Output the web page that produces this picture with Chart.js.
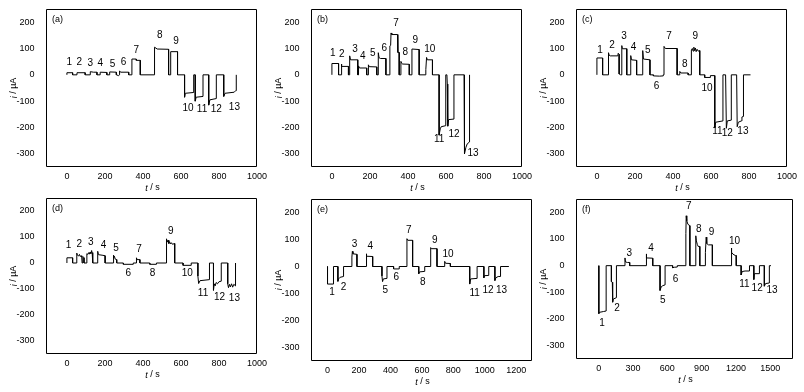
<!DOCTYPE html>
<html><head><meta charset="utf-8">
<script src="https://cdn.jsdelivr.net/npm/chart.js@4/dist/chart.umd.min.js"></script>
<style>
html,body{margin:0;padding:0;background:#fff;}
#wrap{position:relative;width:804px;height:392px;overflow:hidden;background:#fff;}
canvas{position:absolute;}
</style></head><body><div id="wrap"></div>
<script>
// ---------- DATA ----------
const numberLabels=['1','2','3','4','5','6','7','8','9','10','11','12','13'];
const yTicks=[-300,-200,-100,0,100,200];
const xTicks1000=[0,200,400,600,800,1000];
const xTicks1200=[0,200,400,600,800,1000,1200];
const xTicks1500=[0,300,600,900,1200,1500];

// [t (s), i (µA)]
const traceA=[[0,0],[0,8],[30,8],[30,0],[53,0],[53,8],[96,8],[96,0],[123,0],[123,12],[140,10],[158,10],[158,0],[175,0],[175,10],[210,9],[210,0],[225,0],[225,11],[260,10],[260,0],[272,-3],[277,0],[277,15],[282,10],[325,10],[325,0],[342,0],[342,60],[365,60],[365,55],[386,55],[386,0],[461,0],[461,105],[475,98],[535,97],[535,0],[546,0],[546,88],[582,88],[582,0],[619,0],[619,-85],[623,-70],[667,-67],[667,0],[675,0],[675,-100],[680,-85],[716,-82],[716,0],[746,0],[746,-115],[752,-95],[786,-90],[786,0],[825,0],[825,-82],[832,-70],[880,-66],[888,-60],[891,-60],[891,0]];
const traceB=[[0,0],[0,43],[35,43],[35,0],[49,0],[49,41],[53,32],[87,32],[87,0],[92,0],[92,60],[95,72],[98,57],[136,57],[136,0],[140,0],[140,34],[145,26],[183,26],[183,0],[192,0],[192,38],[196,31],[236,30],[236,0],[244,0],[244,84],[248,65],[256,62],[284,62],[284,0],[305,0],[305,110],[309,112],[311,159],[315,153],[345,153],[347,85],[354,85],[354,0],[363,0],[363,51],[368,43],[372,41],[407,40],[407,0],[421,0],[421,98],[459,96],[459,0],[494,0],[494,20],[498,66],[502,57],[529,57],[529,0],[564,0],[564,-229],[570,-205],[575,-197],[599,-193],[599,0],[605,0],[607,-35],[609,-40],[610,-195],[614,-170],[642,-168],[642,0],[695,0],[695,-250],[700,-300],[705,-275],[712,-262],[724,-255],[724,0]];
const traceC=[[0,0],[0,64],[30,64],[30,0],[61,0],[61,84],[64,75],[70,72],[110,72],[112,82],[117,78],[117,3],[125,0],[131,0],[131,111],[134,99],[157,99],[157,0],[178,0],[178,73],[182,57],[209,55],[209,0],[241,0],[241,92],[245,60],[279,57],[279,0],[297,0],[297,-4],[330,-5],[349,-4],[349,0],[353,0],[353,108],[360,100],[422,100],[422,0],[436,0],[436,13],[442,7],[480,7],[480,0],[497,0],[497,95],[502,100],[506,90],[510,105],[514,92],[518,102],[522,88],[527,97],[533,90],[541,92],[541,0],[567,0],[567,-10],[597,-10],[597,-3],[620,-3],[620,-201],[625,-180],[663,-175],[663,0],[677,0],[681,-203],[686,-175],[707,-172],[707,0],[735,0],[738,-197],[744,-180],[760,-175],[763,-160],[771,-158],[771,0],[808,0]];
const traceD=[[0,0],[0,20],[30,20],[30,0],[52,0],[52,38],[55,30],[62,27],[66,33],[70,25],[75,28],[78,22],[80,0],[84,0],[84,25],[90,20],[90,0],[105,0],[105,36],[110,33],[115,40],[118,34],[122,42],[126,36],[130,48],[133,38],[136,40],[136,0],[162,0],[162,45],[166,32],[185,30],[201,28],[201,0],[244,0],[244,30],[247,20],[250,26],[254,15],[262,13],[262,0],[297,0],[297,-5],[349,-5],[349,0],[366,0],[366,20],[369,13],[384,13],[384,0],[436,0],[436,-5],[471,-5],[471,0],[524,0],[524,93],[527,80],[532,88],[536,75],[540,82],[545,73],[550,78],[555,72],[567,75],[567,0],[611,0],[611,-9],[654,-9],[654,0],[689,0],[689,-50],[693,-79],[700,-68],[750,-64],[750,0],[771,0],[771,-105],[775,-80],[780,-88],[785,-75],[792,-80],[800,-72],[812,-70],[812,0],[846,0],[846,-80],[850,-95],[855,-82],[860,-92],[866,-80],[872,-93],[878,-82],[887,-88],[887,0]];
const traceE=[[0,0],[0,-65],[38,-65],[38,0],[66,0],[66,-55],[70,-46],[80,-40],[102,-37],[102,0],[155,0],[155,35],[158,56],[162,47],[187,45],[187,0],[246,0],[246,47],[250,38],[287,37],[287,0],[346,0],[346,-35],[350,-56],[355,-46],[378,-44],[378,0],[420,0],[420,-9],[456,-9],[456,0],[505,0],[505,103],[510,97],[541,97],[541,0],[580,0],[580,-27],[585,-20],[618,-18],[618,0],[656,0],[656,70],[660,66],[696,66],[696,0],[745,0],[745,19],[750,12],[781,11],[781,0],[904,0],[904,-65],[910,-46],[951,-44],[951,0],[994,0],[994,-42],[998,-34],[1025,-33],[1025,0],[1064,0],[1064,-52],[1070,-42],[1085,-37],[1100,-37],[1100,0],[1153,0]];
const traceF=[[0,0],[0,-180],[5,-175],[40,-172],[64,-170],[64,0],[110,0],[110,-60],[118,-62],[121,-137],[127,-125],[154,-120],[154,0],[229,0],[229,29],[233,14],[250,12],[270,12],[270,0],[414,0],[414,44],[420,29],[472,28],[472,0],[536,0],[536,-93],[545,-80],[560,-75],[580,-72],[580,0],[646,0],[646,-8],[660,-6],[687,-5],[687,0],[762,0],[762,120],[765,187],[770,168],[780,155],[797,150],[797,0],[849,0],[849,112],[854,93],[862,80],[870,72],[884,72],[884,0],[933,0],[933,50],[940,107],[945,83],[960,78],[994,78],[994,0],[1159,0],[1159,66],[1165,50],[1175,43],[1195,38],[1203,38],[1203,0],[1246,0],[1246,-35],[1255,-22],[1280,-20],[1319,-20],[1319,0],[1357,0],[1357,-52],[1362,-30],[1406,-30],[1406,0],[1449,0],[1449,-77],[1460,-67],[1493,-65],[1493,0],[1507,0]];

// number label anchors [t, i]
const labelsA=[[12,46],[65,46],[123,43],[175,43],[240,39],[298,46],[365,94],[488,151],[574,128],[637,-126],[711,-130],[786,-132],[881,-122]];
const labelsB=[[5,83],[52,80],[122,99],[162,70],[215,83],[276,102],[337,195],[386,85],[438,130],[515,98],[564,-246],[642,-225],[742,-299]];
const labelsC=[[17,92],[79,112],[143,146],[192,104],[267,95],[314,-45],[379,146],[462,42],[518,146],[579,-51],[634,-214],[686,-220],[768,-216]];
const labelsD=[[9,68],[65,71],[126,78],[192,68],[258,55],[323,-38],[379,51],[450,-41],[546,121],[633,-41],[716,-115],[803,-133],[881,-136]];
const labelsE=[[28,-96],[102,-77],[172,82],[272,75],[367,-89],[437,-40],[516,134],[605,-58],[682,97],[766,47],[936,-99],[1021,-87],[1106,-87]];
const labelsF=[[29,-215],[159,-158],[267,46],[458,65],[559,-131],[672,-50],[788,224],[875,137],[986,124],[1188,93],[1275,-68],[1386,-83],[1516,-93]];

// ---------- LAYOUT ----------
const FONT='"Liberation Sans", Arial, sans-serif';
const panels=[
 {letter:'(a)',box:[0,0,275,196],frame:[46,9,257,167],xr:[-110,1000],xt:xTicks1000,trace:traceA,labels:labelsA},
 {letter:'(b)',box:[265,0,275,196],frame:[311,9,522,167],xr:[-110,1000],xt:xTicks1000,trace:traceB,labels:labelsB},
 {letter:'(c)',box:[530,0,274,196],frame:[576,9,787,167],xr:[-110,1000],xt:xTicks1000,trace:traceC,labels:labelsC},
 {letter:'(d)',box:[0,196,275,196],frame:[46,198,257,354],xr:[-110,1000],xt:xTicks1000,trace:traceD,labels:labelsD},
 {letter:'(e)',box:[265,196,275,196],frame:[311,199,532,361],xr:[-105,1300],xt:xTicks1200,trace:traceE,labels:labelsE},
 {letter:'(f)',box:[530,196,274,196],frame:[576,199,793,359],xr:[-200,1700],xt:xTicks1500,trace:traceF,labels:labelsF}
];
const panelByCanvas=new Map();

function drawMixed(ctx, parts, x, y, size){
  let w=0; const ws=[];
  parts.forEach(p=>{ctx.font=(p[1]?'italic ':'')+size+'px '+FONT; const m=ctx.measureText(p[0]).width; ws.push(m); w+=m;});
  let cx=x-w/2;
  parts.forEach((p,k)=>{ctx.font=(p[1]?'italic ':'')+size+'px '+FONT; ctx.fillText(p[0],cx,y); cx+=ws[k];});
}

const decor={
  id:'decor',
  afterDraw(chart){
    const p=panelByCanvas.get(chart.canvas);
    const ctx=chart.ctx, xs=chart.scales.x, ys=chart.scales.y;
    const L=xs.left, R=xs.right, T=ys.top, B=ys.bottom;
    ctx.save();
    ctx.globalCompositeOperation='source-over';
    ctx.globalAlpha=1;
    ctx.setLineDash([]);
    ctx.strokeStyle='#000'; ctx.lineWidth=1;
    ctx.beginPath();
    ctx.moveTo(L+0.5,T+0.5); ctx.lineTo(R-0.5,T+0.5); ctx.lineTo(R-0.5,B-0.5); ctx.lineTo(L+0.5,B-0.5); ctx.closePath();
    ctx.stroke();
    ctx.fillStyle='#000';
    // number labels
    ctx.font='10px '+FONT; ctx.textAlign='center'; ctx.textBaseline='middle';
    p.labels.forEach((l,k)=>{ctx.fillText(numberLabels[k], xs.getPixelForValue(l[0]), ys.getPixelForValue(l[1]));});
    // panel letter
    ctx.font='9px '+FONT; ctx.textAlign='left';
    ctx.fillText(p.letter, L+6, T+11);
    // x title
    drawMixed(ctx,[['t',true],[' / s',false]], (L+R)/2+1, B+21, 9);
    // y title
    ctx.translate(L-32,(T+B)/2);
    ctx.rotate(-Math.PI/2);
    drawMixed(ctx,[['i',true],[' / µA',false]], 0, 0, 9);
    ctx.restore();
  }
};

panels.forEach((p)=>{
  const [bx,by,bw,bh]=p.box, [L,T,R,B]=p.frame;
  const cv=document.createElement('canvas');
  cv.width=bw; cv.height=bh;
  cv.style.left=bx+'px'; cv.style.top=by+'px';
  cv.style.width=bw+'px'; cv.style.height=bh+'px';
  document.getElementById('wrap').appendChild(cv);
  panelByCanvas.set(cv,p);
  new Chart(cv,{
    type:'line',
    data:{datasets:[{data:p.trace.map(d=>({x:d[0],y:d[1]})),borderColor:'#000',borderWidth:1,pointRadius:0,tension:0,fill:false}]},
    options:{
      responsive:false, animation:false, devicePixelRatio:1,
      layout:{padding:{left:0,top:T-by,right:bx+bw-R,bottom:0}},
      plugins:{legend:{display:false},tooltip:{enabled:false}},
      scales:{
        x:{type:'linear',min:p.xr[0],max:p.xr[1],
           grid:{display:false},border:{display:false},
           afterBuildTicks:s=>{s.ticks=p.xt.map(v=>({value:v}));},
           afterFit:s=>{s.height=by+bh-B; s.paddingLeft=0; s.paddingRight=0;},
           ticks:{color:'#000',font:{family:FONT,size:9},padding:-4,maxRotation:0,autoSkip:false,callback:v=>String(v)}},
        y:{type:'linear',min:-350,max:250,
           grid:{display:false},border:{display:false},
           afterBuildTicks:s=>{s.ticks=yTicks.map(v=>({value:v}));},
           afterFit:s=>{s.width=L-bx; s.paddingTop=0; s.paddingBottom=0;},
           ticks:{color:'#000',font:{family:FONT,size:9},padding:3.5,autoSkip:false,callback:v=>String(v)}}
      }
    },
    plugins:[decor]
  });
});
</script></body></html>
